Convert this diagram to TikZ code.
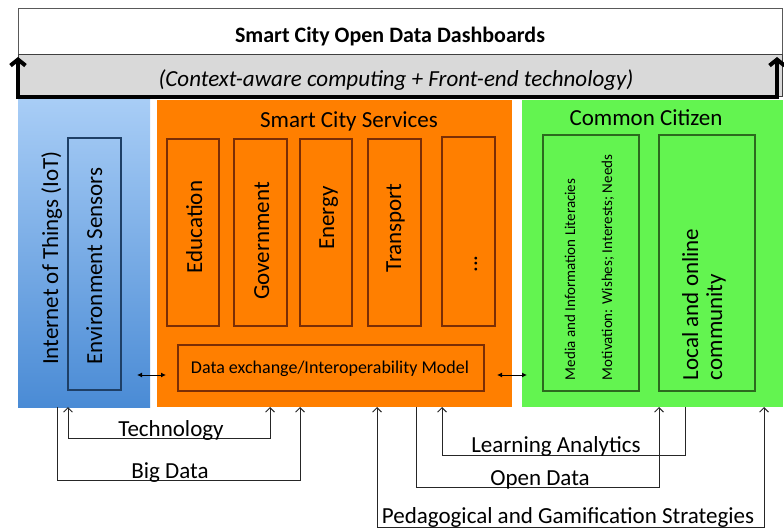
\documentclass[tikz,border=0pt]{standalone}
\usepackage{fontspec}
\setmainfont{Carlito}
\usetikzlibrary{arrows.meta}

\definecolor{iotTop}{HTML}{A8CDF6}
\definecolor{iotBot}{HTML}{4A8BD5}
\definecolor{svcFill}{HTML}{FF7F00}
\definecolor{svcLine}{HTML}{7A2E05}
\definecolor{citFill}{HTML}{63F450}
\definecolor{citLine}{HTML}{2C6A1E}
\definecolor{envLine}{HTML}{1E3F66}
\definecolor{bandFill}{HTML}{D9D9D9}

\begin{document}
\begin{tikzpicture}[x=1pt,y=-1pt,
  every node/.style={inner sep=0pt, outer sep=0pt},
  panel/.style={anchor=north west, draw=none},
  svcbox/.style={anchor=north west, draw=svcLine, line width=1.1pt, fill=svcFill},
  citbox/.style={anchor=north west, draw=citLine, line width=1.1pt},
  envbox/.style={anchor=north west, draw=envLine, line width=1.1pt},
  big/.style={font=\fontsize{23}{25}\selectfont},
  vtext/.style={big, rotate=90, anchor=base},
  link/.style={line width=0.9pt, draw=black!85},
  tip/.tip={Straight Barb[length=4.5pt,width=9pt]},
  swap/.style={line width=1pt, {Latex[length=5pt,width=5pt]}-{Latex[length=5pt,width=5pt]}},
  uline/.style={line width=4pt, {Straight Barb[length=6pt,width=15pt]}-{Straight Barb[length=6pt,width=15pt]}}
]
\useasboundingbox (0,0) rectangle (784,529);

% dashboard header and front-end band
\node[panel, draw=black!65, line width=1pt, fill=white,
      minimum width=764pt, minimum height=46pt] (dash) at (18,9) {};
\node[panel, draw=black!75, line width=1pt, fill=bandFill,
      minimum width=764pt, minimum height=42pt] (band) at (18,55) {};
\node[anchor=base, font=\fontsize{22}{24}\selectfont\bfseries] (dashT) at (390,43)
  {Smart City Open Data Dashboards};
\node[anchor=base, big, font=\fontsize{23}{25}\selectfont\itshape] (bandT) at (396,87)
  {(Context-aware computing + Front-end technology)};

% three pillars
\node[panel, top color=iotTop, bottom color=iotBot,
      minimum width=132pt, minimum height=307pt] (iot) at (18,100) {};
\node[panel, fill=svcFill, minimum width=355pt, minimum height=307pt] (svc) at (157,100) {};
\node[panel, fill=citFill, minimum width=261pt, minimum height=307pt] (cit) at (522,100) {};

% data flows into the dashboard
\coordinate (uL) at (18,57);
\coordinate (uR) at (777,57);
\draw[uline] (uL) -- (uL |- band.south) -- (uR |- band.south) -- (uR);

% Internet of Things
\node[vtext] (iotT) at (58,258) {Internet of Things (IoT)};
\node[envbox, minimum width=53pt, minimum height=252pt] (env) at (68,138) {};
\node[vtext] (envT) at (102,266) {Environment Sensors};

% Smart City Services
\node[anchor=base, big] (svcT) at (349,128) {Smart City Services};
\node[svcbox, minimum width=52pt, minimum height=187pt] (edu) at (167,139) {};
\node[svcbox, minimum width=53pt, minimum height=187pt] (gov) at (234,139) {};
\node[svcbox, minimum width=52pt, minimum height=187pt] (ene) at (300,139) {};
\node[svcbox, minimum width=53pt, minimum height=187pt] (tra) at (368,139) {};
\node[svcbox, minimum width=53pt, minimum height=189pt] (etc) at (442,137) {};
\node[vtext] (eduT) at (202,227) {Education};
\node[vtext] (govT) at (269,241) {Government};
\node[vtext] (eneT) at (334,218) {Energy};
\node[vtext] (traT) at (401,228) {Transport};
\node[vtext] (etcT) at (477,264) {...};
\node[svcbox, minimum width=306pt, minimum height=46pt] (dex) at (178,345) {};
\node[anchor=base, font=\fontsize{18}{20}\selectfont] (dexT) at (330,373)
  {Data exchange/Interoperability Model};

% Common Citizen
\node[anchor=base, big] (citT) at (646,126) {Common Citizen};
\node[citbox, minimum width=96pt, minimum height=256pt] (lit) at (543,135) {};
\node[citbox, minimum width=96pt, minimum height=256pt] (com) at (659,135) {};
\node[rotate=90, anchor=base west, font=\fontsize{15}{17}\selectfont] (litA) at (575,380)
  {Media and Information Literacies};
\node[rotate=90, anchor=base west, font=\fontsize{15}{17}\selectfont] (litB) at (612,380)
  {Motivation: Wishes; Interests; Needs};
\node[rotate=90, anchor=base west, big] (comA) at (698,380) {Local and online};
\node[rotate=90, anchor=base west, big] (comB) at (722,380) {community};

% exchange between pillars
\coordinate (sw1a) at (137,375); \coordinate (sw1b) at (166,375);
\coordinate (sw2a) at (497,375); \coordinate (sw2b) at (527,375);
\draw[swap] (sw1a) -- (sw1b);
\draw[swap] (sw2a) -- (sw2b);

% relations below the pillars
\coordinate (tecL) at (68,438);  \coordinate (tecR) at (270,438);
\coordinate (bigL) at (57,480);  \coordinate (bigR) at (300,480);
\coordinate (anaL) at (442,455); \coordinate (anaR) at (685,455);
\coordinate (opnL) at (416,487); \coordinate (opnR) at (659,487);
\coordinate (pedL) at (377,527); \coordinate (pedR) at (764,527);

\draw[link, tip-tip] (iot.south -| tecL) -- (tecL) -- (tecR) -- (svc.south -| tecR);
\draw[link, -tip] (iot.south -| bigL) -- (bigL) -- (bigR) -- (svc.south -| bigR);
\draw[link, tip-] (svc.south -| anaL) -- (anaL) -- (anaR) -- (cit.south -| anaR);
\draw[link, -tip] (svc.south -| opnL) -- (opnL) -- (opnR) -- (cit.south -| opnR);
\draw[link, tip-tip] (svc.south -| pedL) -- (pedL) -- (pedR) -- (cit.south -| pedR);

\node[anchor=base, big] (tecT) at (171,436) {Technology};
\node[anchor=base, big] (bigT) at (170,478) {Big Data};
\node[anchor=base, big] (anaT) at (556,452) {Learning Analytics};
\node[anchor=base, big] (opnT) at (540,485) {Open Data};
\node[anchor=base, big] (pedT) at (568,523) {Pedagogical and Gamification Strategies};
\end{tikzpicture}
\end{document}
